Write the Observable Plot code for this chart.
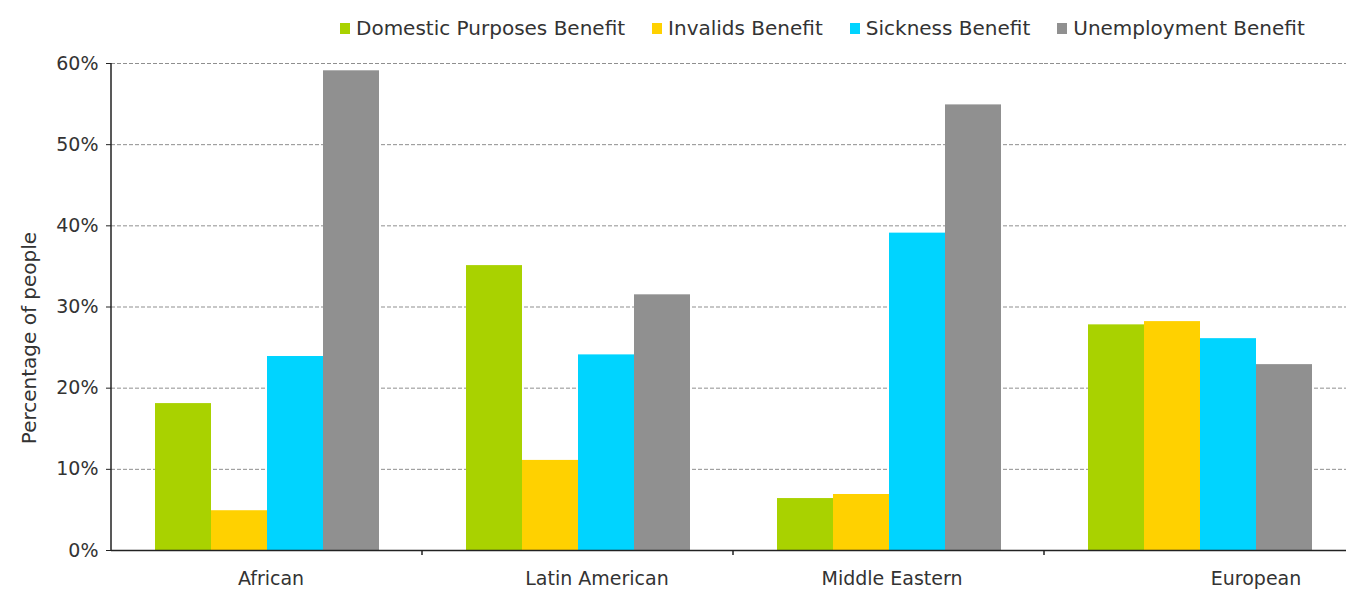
<!DOCTYPE html>
<html>
<head>
<meta charset="utf-8">
<script src="https://cdn.jsdelivr.net/npm/d3@7"></script>
<script src="https://cdn.jsdelivr.net/npm/@observablehq/plot@0.6"></script>
<style>
  html, body { margin: 0; padding: 0; background: #fff; width: 1346px; height: 590px; overflow: hidden; }
  body { font-family: "DejaVu Sans", sans-serif; color: #333; }
  #legend { position: relative; height: 50px; }
  #legend .row { position: absolute; left: 340px; top: 15px; display: flex; align-items: center; gap: 27px; font-size: 20px; line-height: 26px; }
  #legend .item { display: flex; align-items: center; gap: 6px; white-space: nowrap; }
  #legend .sw { width: 10px; height: 11px; }
  #chart svg { display: block; max-width: none !important; }
</style>
</head>
<body>
<div id="legend"><div class="row"></div></div>
<div id="chart"></div>
<script>
// Ethnic groups along the x axis
const groups = ["African", "Latin American", "Middle Eastern", "European"];
// Benefit types (series)
const benefits = ["Domestic Purposes Benefit", "Invalids Benefit", "Sickness Benefit", "Unemployment Benefit"];
const colors = ["#a9d200", "#ffd100", "#00d4ff", "#909090"];

// Percentage of people on each benefit, per group
const domestic     = [18.1, 35.1,  6.4, 27.8];
const invalids     = [ 4.9, 11.1,  6.9, 28.2];
const sickness     = [23.9, 24.1, 39.1, 26.1];
const unemployment = [59.1, 31.5, 54.9, 22.9];

const yTicks = [0, 10, 20, 30, 40, 50, 60];

const series = [domestic, invalids, sickness, unemployment];
const rows = [];
groups.forEach((g, i) => benefits.forEach((b, j) => rows.push({group: g, benefit: b, value: series[j][i]})));

// Legend
const row = d3.select("#legend .row");
benefits.forEach((b, j) => {
  const it = row.append("div").attr("class", "item");
  it.append("div").attr("class", "sw").style("background", colors[j]);
  it.append("span").text(b);
});

const FONT = "DejaVu Sans, sans-serif";

const chart = Plot.plot({
  width: 1356,
  height: 540,
  marginTop: 13,
  marginBottom: 40,
  marginLeft: 110,
  marginRight: 0,
  style: {fontFamily: FONT, fontSize: "19px", color: "#333", background: "transparent", maxWidth: "none"},
  fx: {domain: groups, padding: 0, axis: null},
  x: {domain: benefits, paddingInner: 0, paddingOuter: 0.737, axis: null},
  y: {domain: [0, 60], axis: null},
  color: {domain: benefits, range: colors},
  marks: [
    Plot.gridY(yTicks.filter(d => d > 0), {stroke: "#8f8f8f", strokeOpacity: 1, strokeDasharray: "4,2"}),
    Plot.axisY(yTicks, {tickSize: 5, tickPadding: 8, tickFormat: d => d + "%", label: null, stroke: "#222", fontSize: 19}),
    Plot.barY(rows, {fx: "group", x: "benefit", y: "value", fill: "benefit"}),
    Plot.ruleY([0], {stroke: "#222", strokeWidth: 1.5}),
    Plot.text([groups[0]], {
      fx: d => d, text: () => "Percentage of people", frameAnchor: "left", textAnchor: "middle",
      rotate: -90, dx: -82, dy: 31, fontSize: 20, fill: "#333"
    }),
    ...groups.map((g, i) => Plot.text([g], {
      fx: d => d, text: d => d, frameAnchor: "bottom", lineAnchor: "top",
      dy: 21, dx: [4, 19, 3, 56][i], fontSize: 19, fill: "#333"
    }))
  ]
});

document.getElementById("chart").appendChild(chart);

// Category axis line on the left and separator ticks between the groups
const fxScale = chart.scale("fx");
const yScale = chart.scale("y");
const svg = d3.select(chart);
const g = svg.append("g").attr("stroke", "#222");
const left = fxScale.apply(groups[0]);
g.append("line").attr("x1", left).attr("x2", left)
  .attr("y1", yScale.apply(60)).attr("y2", yScale.apply(0) + 1).attr("stroke-width", 1.5);
groups.slice(1).forEach(c => {
  const x = fxScale.apply(c);
  g.append("line").attr("x1", x).attr("x2", x)
    .attr("y1", yScale.apply(0)).attr("y2", yScale.apply(0) + 5).attr("stroke-width", 1.5);
});
</script>
</body>
</html>
